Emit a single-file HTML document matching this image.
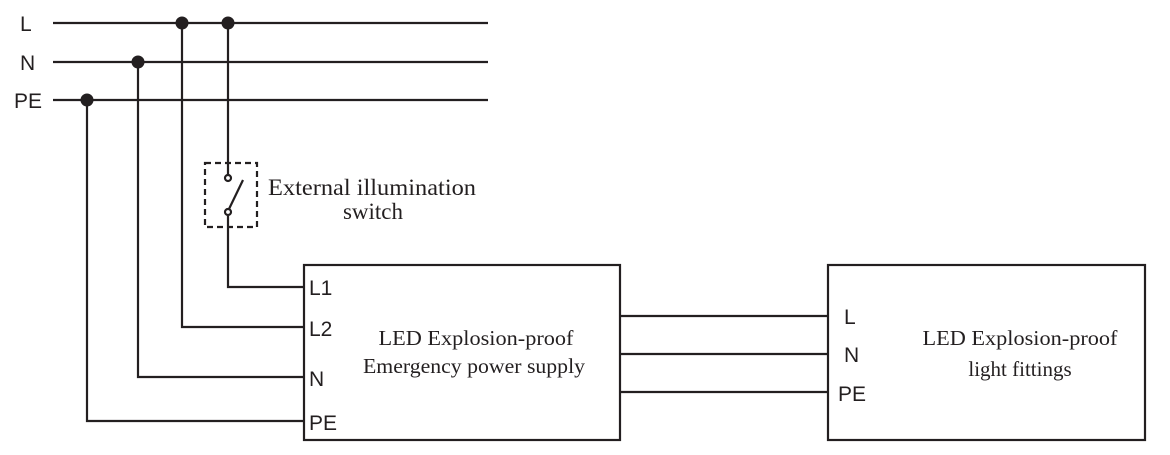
<!DOCTYPE html>
<html><head><style>body{margin:0;background:#fff}</style></head><body>
<svg width="1170" height="455" xmlns="http://www.w3.org/2000/svg" style="display:block">
<g stroke="#231f20" stroke-width="2.2" fill="none">
<line x1="53" y1="23" x2="488" y2="23"/>
<line x1="53" y1="62" x2="488" y2="62"/>
<line x1="53" y1="100" x2="488" y2="100"/>
<polyline points="228,23 228,174"/>
<polyline points="228,216 228,287 304,287"/>
<polyline points="182,23 182,327 304,327"/>
<polyline points="138,62 138,377 304,377"/>
<polyline points="87,100 87,421 304,421"/>
<rect x="304" y="265" width="316" height="175"/>
<rect x="828" y="265" width="317" height="175"/>
<line x1="620" y1="316" x2="828" y2="316"/>
<line x1="620" y1="354" x2="828" y2="354"/>
<line x1="620" y1="392" x2="828" y2="392"/>
<rect x="205" y="163" width="52" height="64" stroke-dasharray="6,4"/>
<circle cx="228" cy="178" r="3" fill="#fff"/>
<circle cx="228" cy="212" r="3" fill="#fff"/>
<line x1="229" y1="209" x2="243" y2="180"/>
</g>
<g fill="#231f20">
<circle cx="182" cy="23" r="6.5"/><circle cx="228" cy="23" r="6.5"/>
<circle cx="138" cy="62" r="6.5"/><circle cx="87" cy="100" r="6.5"/>
</g>
<g font-family="Liberation Sans, sans-serif" font-size="21" fill="#231f20">
<text x="20" y="31">L</text><text x="20" y="70">N</text><text x="14" y="108">PE</text>
<text x="309" y="295">L1</text><text x="309" y="336">L2</text>
<text x="309" y="386">N</text><text x="309" y="430">PE</text>
<text x="844" y="324">L</text><text x="844" y="362">N</text><text x="838" y="401">PE</text>
</g>
<g font-family="Liberation Serif, serif" font-size="23" fill="#231f20" text-anchor="middle">
<text x="372" y="195" textLength="208" lengthAdjust="spacingAndGlyphs">External illumination</text>
<text x="373" y="219">switch</text>
</g>
<g font-family="Liberation Serif, serif" font-size="21" fill="#231f20" text-anchor="middle">
<text x="476" y="345" textLength="195" lengthAdjust="spacingAndGlyphs">LED Explosion-proof</text>
<text x="474" y="373" textLength="222" lengthAdjust="spacingAndGlyphs">Emergency power supply</text>
<text x="1020" y="345" textLength="195" lengthAdjust="spacingAndGlyphs">LED Explosion-proof</text>
<text x="1020" y="376">light fittings</text>
</g>
</svg>
</body></html>
